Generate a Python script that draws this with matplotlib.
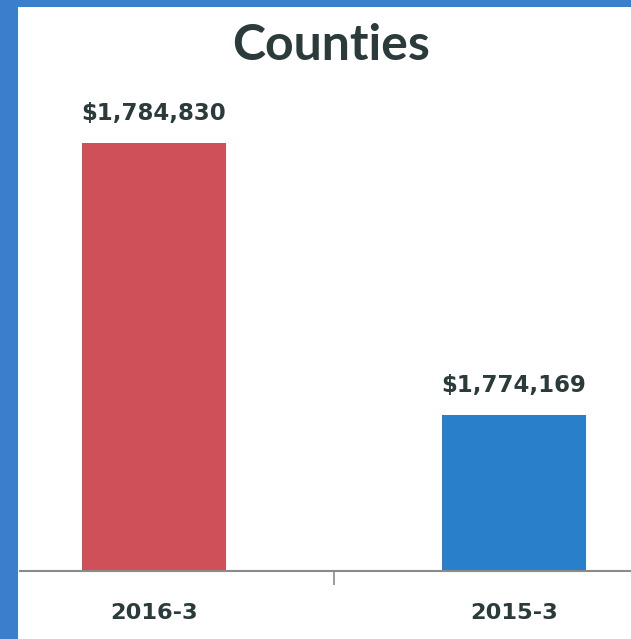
import matplotlib.pyplot as plt
import matplotlib.patches as patches

# data
categories = ['2016-3', '2015-3']
values = [1784830, 1774169]
bar_colors = ['#d0505a', '#2a7fca']

text_color = '#2b3a3a'
border_blue = '#3a7fcc'

fig = plt.figure(figsize=(6.31, 6.39), dpi=100)
fig.patch.set_facecolor('white')

# blue frame around the slide (left and top)
fig.patches.append(patches.Rectangle((0, 0), 18 / 631, 1, transform=fig.transFigure,
                                     facecolor=border_blue, edgecolor='none', zorder=0))
fig.patches.append(patches.Rectangle((0, 1 - 7 / 639), 1, 7 / 639, transform=fig.transFigure,
                                     facecolor=border_blue, edgecolor='none', zorder=0))

ax = fig.add_axes([20 / 631, 68 / 639, 611 / 631, 551 / 639])
ax.set_facecolor('none')

x = range(len(categories))
bars = ax.bar(x, values, width=0.4, color=bar_colors, zorder=2)

# truncated value axis, as in the original chart
ax.set_ylim(1768055, 1789650)
ax.set_xlim(-0.372, 1.325)

for b, v in zip(bars, values):
    ax.annotate('${:,}'.format(v), xy=(b.get_x() + b.get_width() / 2, v),
                xytext=(0, 18), textcoords='offset pixels',
                ha='center', va='bottom', fontsize=16.5, fontweight='bold',
                color=text_color, family='DejaVu Sans')

for s in ['top', 'right', 'left']:
    ax.spines[s].set_visible(False)
ax.spines['bottom'].set_color('#8a8a8a')
ax.spines['bottom'].set_linewidth(1.5)

ax.set_yticks([])
ax.set_xticks([0.5])
ax.set_xticklabels([''])
ax.tick_params(axis='x', length=10, width=1.2, color='#8a8a8a', direction='out')

for i, c in enumerate(categories):
    ax.annotate(c, xy=(i, 0), xycoords=('data', 'axes fraction'),
                xytext=(0, -42), textcoords='offset pixels',
                ha='center', va='center', fontsize=16.2, fontweight='bold',
                color=text_color, family='DejaVu Sans')

fig.text(331 / 631, 1 - 46 / 639, 'Counties', ha='center', va='center',
         fontsize=36, fontweight='bold', color=text_color, family='Lato')

fig.savefig('out.png', dpi=100, facecolor='white')
